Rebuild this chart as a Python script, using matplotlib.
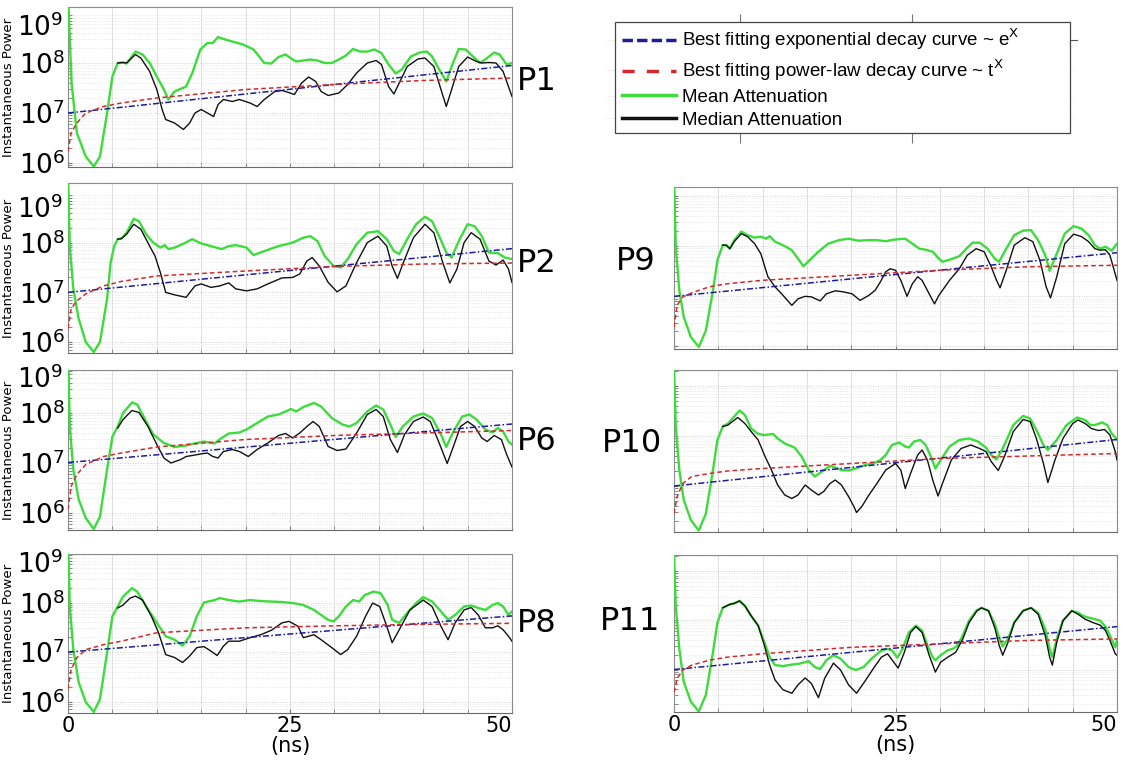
import matplotlib
matplotlib.use("Agg")
import matplotlib.pyplot as plt
import numpy as np
from matplotlib.lines import Line2D
from matplotlib.patches import Rectangle
from matplotlib.ticker import LogLocator, NullFormatter

# ---- data: (time [ns], log10 instantaneous power) ----
p1_mean = [(0, 9.4), (0.4, 7.6), (1.0, 6.6), (2.0, 6.13), (2.9, 5.93), (3.6, 6.13), (4.4, 7.0),
           (5.0, 7.73), (5.6, 8.0), (6.2, 8.01), (6.6, 7.99), (7.6, 8.23), (8.4, 8.17), (9.2, 8.0),
           (10.0, 7.73), (10.8, 7.47), (11.3, 7.27), (12.0, 7.43), (13.3, 7.53), (14.0, 7.8),
           (14.9, 8.27), (15.7, 8.4), (16.3, 8.4), (16.9, 8.52), (17.5, 8.48), (18.5, 8.43),
           (19.7, 8.37), (20.9, 8.27), (22.1, 8.0), (22.9, 7.99), (23.7, 8.12), (24.5, 8.17),
           (25.3, 8.07), (25.7, 8.03), (26.5, 8.05), (27.3, 8.07), (28.1, 8.05), (28.9, 8.0),
           (29.7, 8.0), (30.5, 8.07), (31.3, 8.15), (32.1, 8.28), (32.9, 8.23), (33.7, 8.23),
           (34.5, 8.27), (35.3, 8.2), (36.1, 7.97), (36.9, 7.79), (37.6, 7.87), (38.6, 8.13),
           (39.6, 8.21), (40.4, 8.23), (41.0, 8.13), (41.8, 7.87), (42.6, 7.63), (43.2, 7.93),
           (44.0, 8.28), (44.8, 8.27), (45.6, 8.13), (46.4, 8.0), (47.2, 8.1), (48.0, 8.21),
           (48.6, 8.17), (49.4, 7.97), (50.0, 8.0)]
p1_median = [(5.6, 8.0), (6.2, 8.01), (6.6, 8.0), (7.6, 8.17), (8.2, 8.1), (9.2, 7.83),
             (10.0, 7.47), (10.6, 7.07), (11.0, 6.87), (12.0, 6.8), (13.0, 6.67), (13.7, 6.8),
             (14.3, 7.0), (15.0, 7.07), (15.7, 7.0), (16.4, 6.93), (16.9, 7.17), (17.5, 7.27),
             (18.5, 7.23), (19.3, 7.27), (20.5, 7.2), (21.3, 7.13), (22.1, 7.27), (23.3, 7.43),
             (24.1, 7.45), (24.5, 7.43), (25.5, 7.37), (26.3, 7.6), (27.1, 7.72), (27.9, 7.63),
             (28.5, 7.43), (29.3, 7.35), (30.5, 7.4), (31.5, 7.57), (32.5, 7.8), (33.7, 8.0),
             (34.7, 8.05), (35.3, 7.97), (36.1, 7.53), (36.7, 7.38), (37.3, 7.6), (38.2, 7.93),
             (39.4, 8.08), (40.2, 8.1), (41.2, 7.93), (42.0, 7.47), (42.6, 7.13), (43.2, 7.47),
             (44.0, 7.93), (45.0, 8.12), (46.0, 8.03), (46.6, 8.0), (47.4, 8.01), (48.2, 8.0),
             (49.0, 7.83), (49.6, 7.53), (50.0, 7.33)]

p2_mean = [(0, 9.4), (0.2, 7.93), (0.6, 7.07), (1.2, 6.47), (2.0, 6.0), (2.9, 5.8), (3.6, 6.0),
           (4.4, 6.87), (4.8, 7.6), (5.2, 7.93), (5.6, 8.07), (6.0, 8.08), (6.6, 8.2), (7.4, 8.48),
           (8.0, 8.43), (8.8, 8.17), (9.6, 8.0), (10.4, 7.9), (10.9, 7.95), (11.3, 7.87),
           (12.0, 7.9), (12.9, 7.97), (14.0, 8.07), (14.9, 7.99), (16.1, 7.93), (17.3, 7.87),
           (18.1, 7.93), (18.9, 7.95), (20.1, 7.9), (20.9, 7.75), (22.1, 7.83), (23.7, 7.93),
           (25.3, 8.0), (26.5, 8.1), (27.3, 8.13), (28.1, 8.03), (28.9, 7.73), (29.9, 7.53),
           (30.7, 7.5), (31.5, 7.67), (32.5, 7.97), (33.7, 8.2), (34.9, 8.23), (35.9, 8.07),
           (36.7, 7.83), (37.3, 7.77), (38.2, 8.07), (39.2, 8.37), (40.2, 8.52), (41.0, 8.43),
           (41.8, 8.13), (42.6, 7.8), (43.2, 7.7), (44.0, 8.03), (45.0, 8.37), (45.8, 8.33),
           (46.6, 8.13), (47.4, 7.8), (48.4, 7.79), (49.2, 7.7), (50.0, 7.67)]
p2_median = [(5.6, 8.07), (6.0, 8.08), (6.6, 8.17), (7.4, 8.37), (8.2, 8.27), (9.2, 7.93),
             (9.8, 7.73), (10.4, 7.4), (11.0, 7.0), (12.0, 6.95), (13.3, 6.9), (14.3, 7.13),
             (15.0, 7.17), (16.1, 7.1), (17.1, 7.13), (18.1, 7.19), (18.9, 7.07), (20.1, 7.03),
             (21.3, 7.07), (22.5, 7.17), (24.1, 7.29), (25.3, 7.3), (26.1, 7.37), (26.9, 7.63),
             (27.5, 7.7), (28.3, 7.53), (29.3, 7.2), (30.3, 7.01), (31.3, 7.13), (32.5, 7.6),
             (33.7, 8.0), (34.9, 8.13), (35.9, 7.93), (36.5, 7.53), (37.1, 7.28), (37.7, 7.57),
             (38.9, 8.1), (40.2, 8.37), (41.2, 8.2), (42.2, 7.6), (43.0, 7.19), (43.8, 7.47),
             (44.6, 8.0), (45.4, 8.2), (46.4, 8.07), (47.4, 7.63), (48.2, 7.55), (49.0, 7.65),
             (49.6, 7.47), (50.0, 7.2)]

p6_mean = [(0, 9.4), (0.2, 7.73), (0.6, 6.87), (1.2, 6.27), (2.0, 5.9), (2.9, 5.68), (3.6, 5.93),
           (4.4, 6.87), (5.0, 7.53), (5.6, 7.73), (6.2, 8.0), (7.2, 8.21), (7.8, 8.17), (8.8, 7.83),
           (9.6, 7.57), (10.8, 7.4), (12.0, 7.32), (13.3, 7.35), (14.5, 7.4), (15.3, 7.43),
           (16.5, 7.39), (17.3, 7.5), (18.1, 7.59), (19.3, 7.61), (20.1, 7.67), (21.3, 7.8),
           (22.5, 7.93), (23.7, 7.97), (24.5, 8.03), (25.1, 8.08), (25.7, 8.03), (26.5, 8.12),
           (27.7, 8.2), (28.5, 8.13), (29.7, 7.9), (30.9, 7.77), (31.7, 7.73), (32.5, 7.8),
           (33.7, 8.03), (34.7, 8.15), (35.5, 8.07), (36.3, 7.77), (36.9, 7.52), (37.7, 7.73),
           (38.9, 7.93), (40.0, 7.99), (41.0, 7.9), (42.0, 7.57), (42.6, 7.32), (43.4, 7.63),
           (44.4, 7.93), (45.2, 7.97), (46.0, 7.87), (47.0, 7.67), (47.8, 7.61), (48.4, 7.7),
           (49.0, 7.63), (49.6, 7.43), (50.0, 7.37)]
p6_median = [(5.6, 7.7), (6.2, 7.87), (7.2, 8.05), (8.0, 8.01), (9.0, 7.73), (10.0, 7.37),
             (10.8, 7.1), (11.6, 7.0), (12.7, 7.07), (13.3, 7.13), (14.0, 7.15), (14.9, 7.18),
             (15.7, 7.2), (16.3, 7.13), (16.9, 7.1), (17.5, 7.23), (18.5, 7.27), (19.3, 7.23),
             (20.3, 7.13), (21.3, 7.27), (22.5, 7.4), (23.7, 7.55), (24.5, 7.59), (25.3, 7.5),
             (26.1, 7.6), (26.9, 7.73), (27.6, 7.83), (28.3, 7.73), (29.3, 7.33), (30.3, 7.25),
             (31.3, 7.28), (32.5, 7.6), (33.7, 7.97), (34.7, 8.07), (35.5, 7.93), (36.3, 7.47),
             (37.1, 7.21), (37.9, 7.57), (38.9, 7.83), (40.0, 7.92), (40.8, 7.83), (41.8, 7.4),
             (42.7, 6.99), (43.4, 7.33), (44.2, 7.73), (45.0, 7.83), (45.8, 7.73), (46.6, 7.5),
             (47.2, 7.43), (48.0, 7.55), (48.8, 7.47), (49.4, 7.17), (50.0, 6.92)]

p8_mean = [(0, 9.4), (0.2, 7.92), (0.6, 7.05), (1.2, 6.39), (2.0, 5.99), (2.9, 5.79), (3.6, 6.05),
           (4.4, 6.99), (5.0, 7.72), (5.6, 7.92), (6.2, 8.12), (7.2, 8.29), (7.8, 8.22), (8.8, 7.92),
           (10.0, 7.59), (11.0, 7.32), (12.0, 7.25), (12.9, 7.13), (13.7, 7.32), (14.5, 7.72),
           (15.3, 8.0), (16.5, 8.05), (17.1, 8.09), (18.1, 8.05), (19.3, 8.02), (20.5, 8.05),
           (21.7, 8.03), (22.9, 8.02), (24.1, 8.01), (25.3, 7.99), (26.5, 7.95), (27.7, 7.85),
           (28.5, 7.75), (29.3, 7.65), (29.9, 7.62), (30.5, 7.72), (31.3, 7.92), (32.1, 8.05),
           (32.8, 8.02), (33.4, 8.15), (34.4, 8.22), (35.2, 8.19), (36.0, 7.95), (36.5, 7.65),
           (37.3, 7.59), (38.2, 7.79), (39.2, 7.99), (40.0, 8.11), (41.0, 8.02), (42.0, 7.82),
           (42.8, 7.65), (43.6, 7.75), (44.6, 7.92), (45.4, 7.94), (46.2, 7.89), (47.0, 7.85),
           (47.8, 7.95), (48.4, 7.99), (49.0, 7.92), (49.6, 7.75), (50.0, 7.82)]
p8_median = [(5.6, 7.89), (6.2, 7.95), (7.0, 8.09), (7.6, 8.13), (8.4, 8.05), (9.4, 7.72),
             (10.2, 7.39), (11.0, 6.95), (12.0, 6.89), (12.9, 6.79), (13.7, 6.92), (14.5, 7.09),
             (15.3, 7.11), (16.1, 7.02), (16.8, 6.93), (17.5, 7.12), (18.1, 7.22), (19.3, 7.22),
             (20.5, 7.29), (21.7, 7.35), (22.9, 7.44), (24.1, 7.59), (24.9, 7.62), (25.9, 7.52),
             (26.5, 7.29), (27.1, 7.32), (27.7, 7.35), (28.5, 7.25), (29.7, 7.09), (30.7, 6.95),
             (31.5, 7.05), (32.5, 7.32), (33.5, 7.72), (34.3, 7.99), (35.1, 7.92), (35.9, 7.52),
             (36.5, 7.19), (37.3, 7.45), (38.5, 7.85), (40.0, 8.05), (41.0, 7.92), (42.0, 7.52),
             (42.8, 7.25), (43.6, 7.59), (44.6, 7.85), (45.4, 7.9), (46.2, 7.75), (47.0, 7.49),
             (47.8, 7.49), (48.4, 7.53), (49.0, 7.45), (49.6, 7.32), (50.0, 7.22)]

p9_mean = [(0, 9.4), (0.2, 7.99), (0.6, 7.12), (1.1, 6.59), (1.9, 6.19), (2.8, 5.99), (3.6, 6.32),
           (4.4, 7.12), (4.9, 7.72), (5.5, 8.02), (5.9, 8.02), (6.3, 7.95), (6.8, 8.12), (7.6, 8.29),
           (8.3, 8.22), (9.1, 8.17), (9.8, 8.19), (10.4, 8.15), (10.8, 8.2), (11.4, 8.09),
           (12.3, 8.02), (13.3, 7.92), (14.0, 7.75), (14.6, 7.6), (15.3, 7.72), (16.3, 7.89),
           (17.4, 8.05), (18.6, 8.12), (19.7, 8.15), (20.8, 8.11), (22.0, 8.12), (22.9, 8.12),
           (23.9, 8.1), (24.8, 8.13), (26.1, 8.15), (26.9, 8.05), (27.7, 7.95), (28.4, 7.93),
           (29.2, 7.89), (29.9, 7.75), (30.3, 7.69), (31.1, 7.73), (32.2, 7.8), (33.0, 7.95),
           (33.7, 8.07), (34.5, 8.07), (35.4, 7.95), (36.2, 7.75), (36.7, 7.69), (37.5, 7.95),
           (38.4, 8.22), (39.4, 8.31), (40.3, 8.32), (41.1, 8.12), (41.9, 7.82), (42.4, 7.51),
           (43.2, 7.85), (44.1, 8.25), (45.1, 8.4), (46.0, 8.35), (46.8, 8.22), (47.5, 8.02),
           (48.1, 7.95), (48.7, 7.99), (49.4, 7.91), (50.0, 8.05)]
p9_median = [(5.5, 8.02), (5.9, 8.02), (6.3, 7.95), (6.8, 8.09), (7.6, 8.25), (8.3, 8.19),
             (9.1, 8.05), (9.8, 7.85), (10.6, 7.39), (11.4, 7.19), (12.3, 7.02), (13.3, 6.82),
             (14.0, 6.95), (14.8, 7.0), (15.5, 6.99), (16.5, 6.91), (17.2, 7.05), (18.2, 7.11),
             (19.1, 7.09), (20.1, 7.05), (21.0, 6.92), (22.0, 7.02), (22.7, 7.12), (23.3, 7.29),
             (23.9, 7.49), (24.4, 7.55), (25.0, 7.52), (25.6, 7.32), (26.3, 7.0), (26.9, 7.25),
             (27.5, 7.39), (28.0, 7.32), (28.8, 7.05), (29.4, 6.85), (29.9, 7.02), (31.1, 7.32),
             (32.2, 7.55), (33.1, 7.82), (34.1, 7.95), (35.0, 7.89), (35.8, 7.59), (36.4, 7.32),
             (36.8, 7.17), (37.5, 7.52), (38.4, 8.02), (39.6, 8.17), (40.5, 8.09), (41.3, 7.72),
             (42.0, 7.19), (42.5, 6.97), (43.2, 7.39), (44.1, 8.05), (45.1, 8.24), (46.0, 8.19),
             (46.8, 8.09), (47.5, 7.95), (48.1, 7.92), (48.7, 7.93), (49.2, 7.82), (50.0, 7.32)]

p10_mean = [(0, 9.4), (0.2, 8.19), (0.6, 7.32), (1.1, 6.72), (1.9, 6.32), (2.8, 6.11), (3.6, 6.45),
            (4.4, 7.32), (4.9, 7.92), (5.5, 8.19), (6.1, 8.25), (6.6, 8.35), (7.4, 8.51), (8.0, 8.42),
            (8.7, 8.15), (9.5, 8.04), (10.2, 8.02), (11.2, 8.04), (11.7, 7.95), (12.5, 7.85),
            (13.6, 7.77), (14.4, 7.59), (15.2, 7.32), (15.9, 7.19), (16.7, 7.29), (17.6, 7.4),
            (18.2, 7.37), (18.9, 7.32), (19.7, 7.31), (20.5, 7.35), (21.6, 7.42), (22.5, 7.45),
            (23.3, 7.52), (23.9, 7.62), (24.6, 7.82), (25.4, 7.87), (26.1, 7.79), (26.5, 7.77),
            (27.1, 7.89), (27.8, 7.92), (28.4, 7.82), (29.0, 7.59), (29.5, 7.35), (30.1, 7.52),
            (31.1, 7.79), (32.2, 7.92), (33.3, 7.95), (34.3, 7.89), (35.2, 7.77), (35.8, 7.62),
            (36.4, 7.53), (37.1, 7.75), (38.3, 8.22), (39.4, 8.4), (40.2, 8.35), (40.9, 8.12),
            (41.7, 7.82), (42.2, 7.72), (43.2, 7.92), (44.3, 8.22), (45.5, 8.37), (46.4, 8.32),
            (47.0, 8.22), (47.5, 8.22), (48.3, 8.27), (48.9, 8.22), (49.4, 8.05), (50.0, 7.93)]
p10_median = [(5.5, 8.19), (6.1, 8.22), (6.6, 8.29), (7.2, 8.37), (8.0, 8.25), (8.7, 8.09),
              (9.5, 7.92), (10.2, 7.62), (11.0, 7.32), (11.7, 7.02), (12.5, 6.82), (13.3, 6.75),
              (14.0, 6.82), (14.8, 7.02), (15.5, 6.92), (16.3, 6.82), (16.9, 6.89), (17.6, 7.05),
              (18.2, 7.12), (18.9, 7.02), (19.7, 6.79), (20.3, 6.59), (20.6, 6.47), (21.2, 6.59),
              (22.0, 6.82), (22.9, 7.05), (23.9, 7.32), (25.0, 7.45), (25.6, 7.32), (26.1, 6.95),
              (26.7, 7.25), (27.5, 7.62), (28.0, 7.72), (28.6, 7.52), (29.2, 7.12), (29.8, 6.8),
              (30.3, 7.05), (31.3, 7.52), (32.4, 7.75), (33.5, 7.82), (34.5, 7.75), (35.2, 7.69),
              (35.8, 7.49), (36.6, 7.31), (37.3, 7.59), (38.3, 8.09), (39.4, 8.33), (40.2, 8.29),
              (40.9, 7.95), (41.7, 7.45), (42.2, 7.07), (43.0, 7.52), (43.9, 7.95), (45.0, 8.25),
              (45.6, 8.32), (46.4, 8.25), (47.1, 8.15), (47.9, 8.11), (48.6, 8.13), (49.2, 8.02),
              (49.8, 7.69), (50.0, 7.52)]

p11_mean = [(0, 9.4), (0.2, 8.29), (0.6, 7.42), (1.1, 6.75), (1.9, 6.35), (2.8, 6.15), (3.6, 6.49),
            (4.4, 7.35), (4.9, 7.95), (5.5, 8.25), (6.3, 8.32), (6.8, 8.34), (7.4, 8.39), (8.0, 8.29),
            (8.7, 8.09), (9.5, 7.89), (10.2, 7.55), (10.8, 7.25), (11.4, 7.09), (12.3, 7.07),
            (13.3, 7.1), (14.2, 7.12), (15.2, 7.17), (15.9, 7.05), (16.5, 7.01), (17.2, 7.19),
            (18.0, 7.29), (18.8, 7.22), (19.7, 7.05), (20.5, 6.99), (21.4, 7.05), (22.3, 7.22),
            (23.3, 7.37), (24.0, 7.42), (24.6, 7.39), (25.2, 7.24), (25.8, 7.42), (26.5, 7.75),
            (27.3, 7.89), (28.0, 7.79), (28.6, 7.49), (29.2, 7.25), (29.5, 7.19), (30.1, 7.29),
            (30.9, 7.39), (31.6, 7.43), (32.0, 7.49), (32.6, 7.69), (33.3, 7.99), (34.1, 8.19),
            (34.7, 8.25), (35.5, 8.19), (36.2, 7.92), (36.7, 7.65), (37.1, 7.47), (37.7, 7.62),
            (38.4, 7.95), (39.4, 8.19), (40.3, 8.25), (41.1, 8.15), (41.9, 7.82), (42.4, 7.42),
            (42.7, 7.25), (43.2, 7.62), (43.9, 7.99), (44.9, 8.19), (45.6, 8.15), (46.4, 8.07),
            (47.3, 8.03), (48.1, 7.99), (48.7, 7.87), (49.2, 7.69), (49.8, 7.45), (50.0, 7.59)]
p11_median = [(5.5, 8.25), (6.3, 8.32), (6.8, 8.34), (7.4, 8.39), (8.0, 8.29), (8.7, 8.09),
              (9.5, 7.89), (10.2, 7.49), (10.8, 7.09), (11.4, 6.79), (12.3, 6.59), (13.3, 6.52),
              (14.0, 6.69), (14.8, 6.83), (15.5, 6.72), (16.3, 6.43), (17.0, 6.82), (18.0, 7.13),
              (18.8, 6.99), (19.7, 6.69), (20.6, 6.52), (21.5, 6.75), (22.5, 7.02), (23.4, 7.25),
              (24.1, 7.32), (24.8, 7.15), (25.3, 7.03), (26.0, 7.35), (26.7, 7.75), (27.3, 7.87),
              (28.0, 7.75), (28.8, 7.29), (29.5, 6.95), (30.1, 7.15), (30.9, 7.25), (31.8, 7.35),
              (32.6, 7.62), (33.3, 7.95), (34.2, 8.19), (34.7, 8.25), (35.5, 8.19), (36.2, 7.85),
              (36.7, 7.49), (37.1, 7.29), (37.7, 7.55), (38.4, 7.95), (39.4, 8.19), (40.3, 8.25),
              (41.1, 8.12), (41.9, 7.69), (42.4, 7.25), (42.7, 7.09), (43.2, 7.55), (43.9, 7.99),
              (44.9, 8.19), (45.6, 8.12), (46.4, 8.02), (47.3, 7.95), (48.1, 7.9), (48.7, 7.79),
              (49.2, 7.59), (49.8, 7.32), (50.0, 7.29)]

# fitted curves: exponential fit (straight on log axis) at t = 0 and 50 ns,
# power-law fit sampled at fit_t
exp_t = [0, 50]
p1_exp, p2_exp, p6_exp, p8_exp = [7.0, 7.95], [7.0, 7.88], [7.01, 7.78], [7.0, 7.73]
p9_exp, p10_exp, p11_exp = [7.0, 7.87], [7.0, 7.93], [7.0, 7.87]

fit_t = [0, 0.35, 1, 2, 4, 6, 10, 20, 30, 40, 50]
p1_pow = [6.23, 6.6, 6.8, 7.0, 7.13, 7.2, 7.3, 7.47, 7.57, 7.65, 7.7]
p2_pow = [6.27, 6.67, 6.83, 6.97, 7.13, 7.22, 7.33, 7.43, 7.52, 7.57, 7.59]
p6_pow = [6.07, 6.53, 6.77, 6.97, 7.13, 7.2, 7.32, 7.47, 7.55, 7.6, 7.65]
p8_pow = [6.25, 6.65, 6.89, 7.05, 7.15, 7.22, 7.39, 7.49, 7.53, 7.56, 7.58]
p9_pow = [6.39, 6.82, 6.99, 7.07, 7.19, 7.25, 7.32, 7.42, 7.52, 7.59, 7.62]
p10_pow = [6.45, 6.79, 7.05, 7.19, 7.25, 7.3, 7.35, 7.45, 7.55, 7.6, 7.65]
p11_pow = [6.54, 6.82, 6.99, 7.09, 7.19, 7.25, 7.32, 7.45, 7.52, 7.59, 7.62]

labels = ["Best fitting exponential decay curve ~ e$^{\\mathrm{X}}$",
          "Best fitting power-law decay curve ~ t$^{\\mathrm{X}}$",
          "Mean Attenuation", "Median Attenuation"]

# ---- layout (pixels of the 1126x765 picture) ----
W, H = 1126, 765
C_EXP, C_POW, C_MEAN, C_MED = "#1c1c9c", "#d22a2a", "#3cdc3c", "#111111"

# name, series, (x0, x1, top, bottom), log10 ylim, left column?, bottom row?,
# panel label centre, 10^9 label height (axes fraction)
panels = [
    ("P1", p1_mean, p1_median, p1_exp, p1_pow, (68, 512, 7, 167), (5.92, 9.12), True, False, (537, 82), 0.87),
    ("P2", p2_mean, p2_median, p2_exp, p2_pow, (68, 512, 183, 353), (5.78, 9.2), True, False, (537, 263), 0.84),
    ("P6", p6_mean, p6_median, p6_exp, p6_pow, (68, 512, 370, 530), (5.66, 8.86), True, False, (537, 442), 0.94),
    ("P8", p8_mean, p8_median, p8_exp, p8_pow, (68, 512, 554, 713), (5.77, 8.98), True, True, (537, 623), 0.93),
    ("P9", p9_mean, p9_median, p9_exp, p9_pow, (674, 1117, 187, 349), (5.95, 9.18), False, False, (636, 262), None),
    ("P10", p10_mean, p10_median, p10_exp, p10_pow, (674, 1117, 370, 532), (6.08, 9.32), False, False, (632, 443), None),
    ("P11", p11_mean, p11_median, p11_exp, p11_pow, (674, 1117, 555, 712), (6.14, 9.32), False, True, (630, 622), None),
]


def curve(pairs):
    a = np.array(pairs, dtype=float)
    return a[:, 0], 10 ** a[:, 1]


fig = plt.figure(figsize=(W / 100, H / 100), dpi=100)

for (name, mean, median, fexp, fpow, (x0, x1, top, bot), (lo, hi),
     left_col, bottom_row, (lx, ly), y9) in panels:
    ax = fig.add_axes([x0 / W, 1 - bot / H, (x1 - x0) / W, (bot - top) / H])
    ax.set_yscale("log")
    ax.set_xlim(0, 50)
    ax.set_ylim(10 ** lo, 10 ** hi)

    ax.plot(*curve(mean), color=C_MEAN, lw=1.7, zorder=3)
    ax.plot(*curve(median), color=C_MED, lw=1.0, zorder=4)
    ax.plot(exp_t, 10 ** np.array(fexp), color=C_EXP, lw=1.1,
            ls=(0, (4, 1.5, 1, 1.5)), zorder=5)
    ax.plot(fit_t, 10 ** np.array(fpow), color=C_POW, lw=1.1,
            ls=(0, (3, 2)), zorder=5)

    ax.set_xticks([0, 25, 50])
    ax.set_xticks([5, 10, 15, 20, 30, 35, 40, 45], minor=True)
    ax.yaxis.set_major_locator(LogLocator(base=10, numticks=10))
    ax.yaxis.set_minor_locator(LogLocator(base=10, subs=np.arange(2, 10), numticks=50))
    ax.yaxis.set_minor_formatter(NullFormatter())
    ax.grid(which="both", axis="x", color="#dedede", lw=0.7)
    ax.grid(which="major", axis="y", color="#cfcfcf", lw=0.7, ls=":")
    ax.grid(which="minor", axis="y", color="#e2e2e2", lw=0.6, ls=":")
    ax.set_axisbelow(True)
    ax.tick_params(which="both", direction="in", length=3, color="#777777",
                   labelsize=15, pad=2)
    for s in ax.spines.values():
        s.set_color("#8c8c8c")
        s.set_linewidth(0.8)
    ax.spines["bottom"].set_color("#6a6a6a")

    if left_col:
        ax.set_yticks([1e6, 1e7, 1e8])
        ax.set_yticklabels(["$10^{6}$", "$10^{7}$", "$10^{8}$"], fontsize=19)
        ax.text(-0.01, y9, "$10^{9}$", transform=ax.transAxes, ha="right",
                va="center", fontsize=19)
        ax.set_ylabel("Instantaneous Power", fontsize=9.5, labelpad=3)
    else:
        ax.set_yticklabels([])
    if bottom_row:
        ax.set_xlabel("(ns)", fontsize=15, labelpad=0)
        ax.get_xticklabels()[-1].set_horizontalalignment("right")
    else:
        ax.tick_params(labelbottom=False)

    fig.text(lx / W, 1 - ly / H, name, fontsize=23, ha="center", va="center")

# remains of the axes behind the legend
bg = fig.add_axes([605 / W, 1 - 137 / H, 470 / W, 117 / H])
bg.set_xlim(605, 1075)
bg.set_ylim(137, 20)
for s in bg.spines.values():
    s.set_visible(False)
bg.set_xticks([740, 912])
bg.set_yticks([40, 70, 96, 118])
bg.tick_params(axis="x", top=True, bottom=True, direction="inout", length=8,
               color="#777777", labelbottom=False)
bg.tick_params(axis="y", left=False, right=False, labelleft=False)
bg.grid(True, color="#e0e0e0", lw=0.6, ls=":")
bg.plot([1070, 1077], [40, 40], color="#555555", lw=0.8, clip_on=False)

# legend frame drawn separately, it is wider than its content
fig.patches.append(Rectangle((615 / W, 1 - 133 / H), 455 / W, 111 / H,
                             transform=fig.transFigure, facecolor="white",
                             edgecolor="#444444", lw=0.9, zorder=2))
handles = [Line2D([], [], color=C_EXP, lw=2.5, ls=(0, (3, 1.2))),
           Line2D([], [], color=C_POW, lw=2.5, ls=(0, (3.5, 3.5))),
           Line2D([], [], color=C_MEAN, lw=2.5),
           Line2D([], [], color=C_MED, lw=2.5)]
fig.legend(handles, labels, loc="upper left",
           bbox_to_anchor=(615 / W, 1 - 20 / H), frameon=False,
           prop={"family": "Liberation Sans", "size": 13.5},
           handlelength=2.9, handletextpad=0.3, labelspacing=0.3,
           borderpad=0.35, borderaxespad=0)

fig.savefig("out.png", dpi=100)
